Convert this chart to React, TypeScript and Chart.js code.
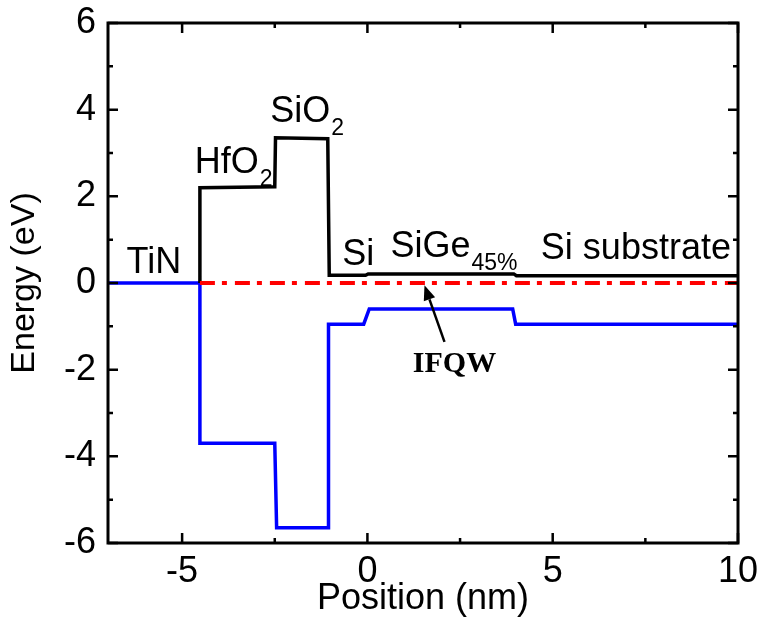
import React, { useEffect, useRef } from "react";
import { Chart, registerables } from "chart.js";
Chart.register(...registerables);

// Conduction band edge (black)
const cbX = [-4.52, -4.52, -2.5, -2.48, -1.07, -1.03, -0.05, 0.02, 3.95, 4.02, 10];
const cbY = [0, 2.2, 2.22, 3.35, 3.33, 0.18, 0.18, 0.21, 0.21, 0.17, 0.17];
// Valence band edge (blue)
const vbX = [-7, -4.52, -4.52, -2.5, -2.45, -1.05, -1.05, -0.1, 0.05, 3.92, 4.0, 10];
const vbY = [0, 0, -3.7, -3.7, -5.65, -5.65, -0.95, -0.95, -0.6, -0.6, -0.95, -0.95];
// Fermi level (red dash-dot)
const efX = [-4.52, 10];
const efY = [0, 0];

const xMajor = [-5, 0, 5, 10];
const xMinor = [-2.5, 2.5, 7.5];
const yMajor = [-6, -4, -2, 0, 2, 4, 6];
const yMinor = [-5, -3, -1, 1, 3, 5];

const xTitle = "Position (nm)";
const yTitle = "Energy (eV)";

// Region labels: text, subscript, anchor position
const labelTexts = ["TiN", "HfO", "SiO", "Si", "SiGe", "Si substrate"];
const labelSubs = ["", "2", "2", "", "45%", ""];
const labelX = [-6.5, -4.66, -2.62, -0.68, 0.62, 4.68];
const labelY = [0.23, 2.54, 3.72, 0.42, 0.6, 0.56];

const arrowText = "IFQW";
const arrowTail = [2.08, -1.36];
const arrowHead = [1.54, -0.05];
const arrowTextPos = [2.35, -2.05];

const SANS = "'Liberation Sans', Arial, sans-serif";

function toPts(xs: number[], ys: number[]) {
  return xs.map((x, i) => ({ x, y: ys[i] }));
}

const framePlugin = {
  id: "frame",
  afterDatasetsDraw(chart: any) {
    const { ctx, chartArea, scales } = chart;
    const { left, right, top, bottom } = chartArea;
    const xs = scales.x;
    const ys = scales.y;
    ctx.save();
    ctx.strokeStyle = "#000";
    ctx.lineWidth = 3;
    ctx.strokeRect(left, top, right - left, bottom - top);
    ctx.lineWidth = 2.5;
    const drawX = (v: number, len: number) => {
      const p = xs.getPixelForValue(v);
      ctx.beginPath();
      ctx.moveTo(p, bottom);
      ctx.lineTo(p, bottom - len);
      ctx.moveTo(p, top);
      ctx.lineTo(p, top + len);
      ctx.stroke();
    };
    const drawY = (v: number, len: number) => {
      const p = ys.getPixelForValue(v);
      ctx.beginPath();
      ctx.moveTo(left, p);
      ctx.lineTo(left + len, p);
      ctx.moveTo(right, p);
      ctx.lineTo(right - len, p);
      ctx.stroke();
    };
    xMajor.forEach((v) => drawX(v, 10));
    xMinor.forEach((v) => drawX(v, 5));
    yMajor.forEach((v) => drawY(v, 10));
    yMinor.forEach((v) => drawY(v, 5));

    // region labels
    ctx.fillStyle = "#000";
    ctx.textBaseline = "alphabetic";
    ctx.textAlign = "left";
    labelTexts.forEach((t, i) => {
      const px = xs.getPixelForValue(labelX[i]);
      const py = ys.getPixelForValue(labelY[i]);
      ctx.font = `36px ${SANS}`;
      ctx.fillText(t, px, py);
      if (labelSubs[i]) {
        const w = ctx.measureText(t).width;
        ctx.font = `23px ${SANS}`;
        ctx.fillText(labelSubs[i], px + w + 1, py + 13);
      }
    });

    // arrow
    const tx = xs.getPixelForValue(arrowTail[0]);
    const ty = ys.getPixelForValue(arrowTail[1]);
    const hx = xs.getPixelForValue(arrowHead[0]);
    const hy = ys.getPixelForValue(arrowHead[1]);
    const ang = Math.atan2(hy - ty, hx - tx);
    const headLen = 15;
    const headW = 6;
    const bx = hx - headLen * Math.cos(ang);
    const by = hy - headLen * Math.sin(ang);
    ctx.strokeStyle = "#000";
    ctx.lineWidth = 2.5;
    ctx.beginPath();
    ctx.moveTo(tx, ty);
    ctx.lineTo(bx, by);
    ctx.stroke();
    ctx.beginPath();
    ctx.moveTo(hx, hy);
    ctx.lineTo(bx + headW * Math.sin(ang), by - headW * Math.cos(ang));
    ctx.lineTo(bx - headW * Math.sin(ang), by + headW * Math.cos(ang));
    ctx.closePath();
    ctx.fill();

    ctx.font = `bold 30px 'Liberation Serif', 'DejaVu Serif', serif`;
    ctx.textAlign = "center";
    ctx.fillText(
      arrowText,
      xs.getPixelForValue(arrowTextPos[0]),
      ys.getPixelForValue(arrowTextPos[1])
    );
    ctx.restore();
  },
};

export default function App() {
  const ref = useRef<HTMLCanvasElement | null>(null);
  useEffect(() => {
    if (!ref.current) return;
    const chart = new Chart(ref.current, {
      type: "scatter",
      data: {
        datasets: [
          {
            data: toPts(efX, efY),
            showLine: true,
            borderColor: "#ff0000",
            borderWidth: 4,
            borderDash: [15, 7, 5, 8],
            pointRadius: 0,
            order: 0,
          },
          {
            data: toPts(cbX, cbY),
            showLine: true,
            borderColor: "#000000",
            borderWidth: 3.5,
            pointRadius: 0,
            order: 1,
          },
          {
            data: toPts(vbX, vbY),
            showLine: true,
            borderColor: "#0000ff",
            borderWidth: 3.5,
            pointRadius: 0,
            order: 2,
          },
        ],
      },
      options: {
        responsive: false,
        animation: false,
        devicePixelRatio: 1,
        layout: { padding: { top: 23, right: 28, left: 0, bottom: 0 } },
        plugins: { legend: { display: false }, tooltip: { enabled: false } },
        scales: {
          x: {
            type: "linear",
            min: -7,
            max: 10,
            afterBuildTicks: (s: any) => {
              s.ticks = xMajor.map((v) => ({ value: v }));
            },
            afterFit: (s: any) => {
              s.height = 79;
              s.paddingLeft = 0;
              s.paddingRight = 0;
            },
            grid: { display: false, drawTicks: false },
            border: { display: false },
            ticks: {
              color: "#000",
              padding: 7,
              font: { family: SANS, size: 36 },
              maxRotation: 0,
              autoSkip: false,
            },
            title: {
              display: true,
              text: xTitle,
              color: "#000",
              font: { family: SANS, size: 36 },
              padding: { top: 0, bottom: 1 },
            },
          },
          y: {
            type: "linear",
            min: -6,
            max: 6,
            afterBuildTicks: (s: any) => {
              s.ticks = yMajor.map((v) => ({ value: v }));
            },
            afterFit: (s: any) => {
              s.width = 108;
              s.paddingTop = 0;
              s.paddingBottom = 0;
            },
            grid: { display: false, drawTicks: false },
            border: { display: false },
            ticks: {
              color: "#000",
              padding: 12,
              font: { family: SANS, size: 36 },
              autoSkip: false,
            },
            title: {
              display: true,
              text: yTitle,
              color: "#000",
              font: { family: SANS, size: 34 },
              padding: { top: 4, bottom: 0 },
            },
          },
        },
      },
      plugins: [framePlugin],
    });
    return () => chart.destroy();
  }, []);
  return (
    <div style={{ position: "absolute", left: 0, top: 0, width: 766, height: 622, background: "#fff" }}>
      <canvas ref={ref} width={766} height={622} style={{ display: "block" }} />
    </div>
  );
}
